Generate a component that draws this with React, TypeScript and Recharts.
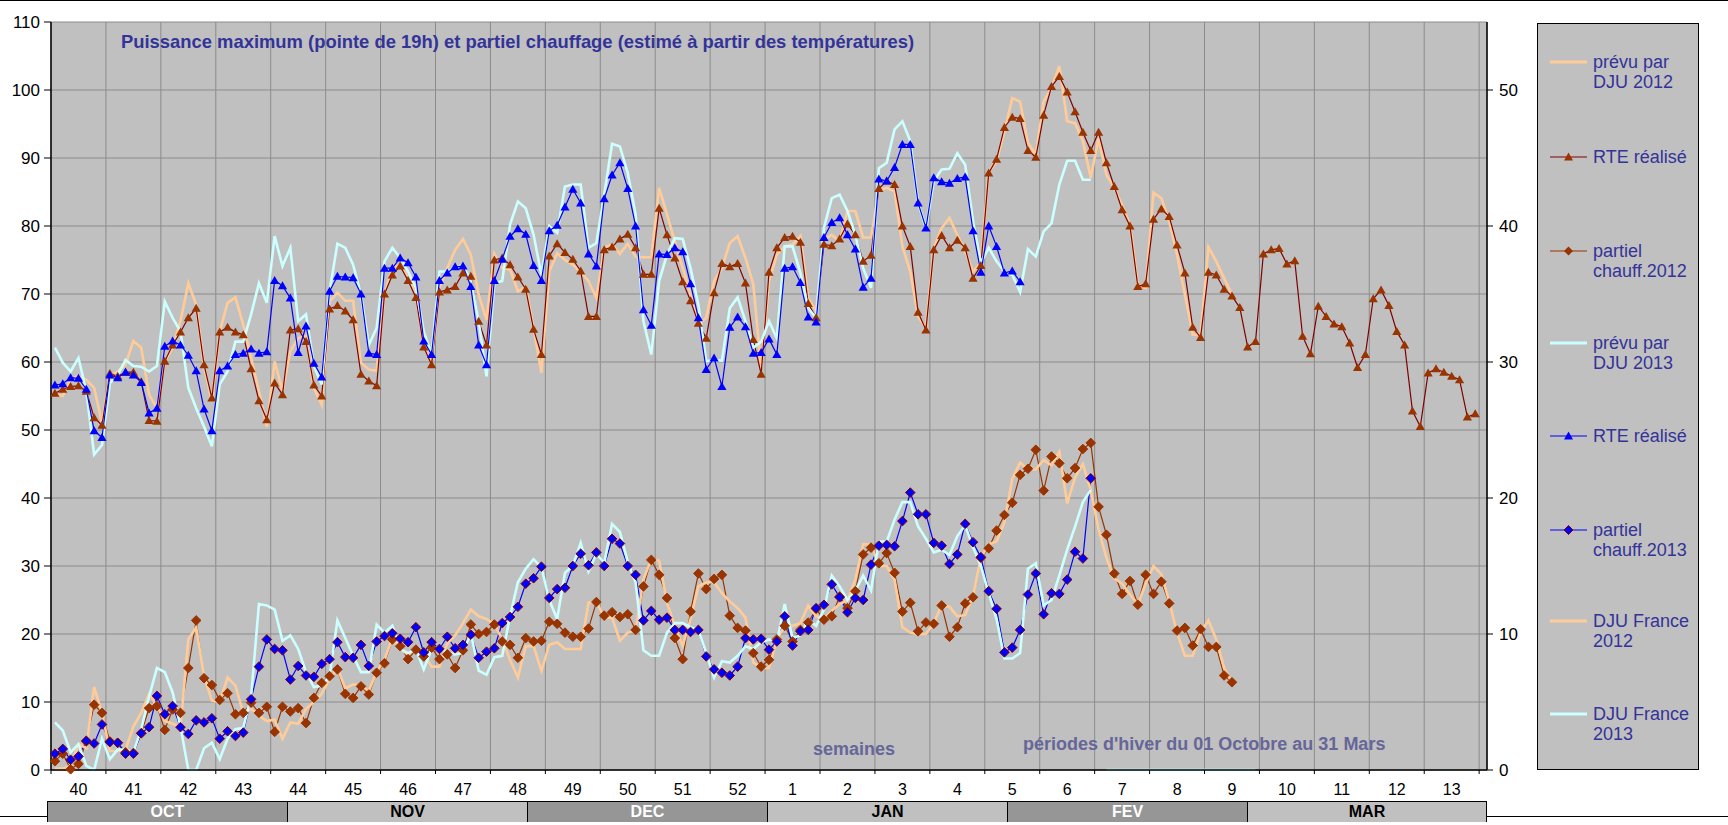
import React from 'react';
import { ComposedChart, Line, XAxis, YAxis, CartesianGrid } from 'recharts';

// 183 daily categories, 1 Oct -> 31 Mar (winter 2011-12, leap year)
const DAY_COUNT = 183;

const weekLabels = ['40', '41', '42', '43', '44', '45', '46', '47', '48', '49', '50', '51', '52',
  '1', '2', '3', '4', '5', '6', '7', '8', '9', '10', '11', '12', '13'];
const weekTicks = [0, 7, 14, 21, 28, 35, 42, 49, 56, 63, 70, 77, 84, 91, 98, 105, 112, 119, 126,
  133, 140, 147, 154, 161, 168, 175, 182];
const monthNames = ['OCT', 'NOV', 'DEC', 'JAN', 'FEV', 'MAR'];
const leftTicks = [0, 10, 20, 30, 40, 50, 60, 70, 80, 90, 100, 110];
const rightTicks = [0, 10, 20, 30, 40, 50];

// GW, left axis
const rte2012 = [
  55.4, 56.0, 56.4, 56.5, 55.7, 51.8, 50.7, 58.3, 57.9, 58.5,
  58.5, 57.1, 51.4, 51.3, 60.1, 62.5, 64.4, 66.5, 67.9, 59.6,
  54.7, 64.4, 65.1, 64.4, 64.0, 59.0, 54.3, 51.5, 56.9, 55.2,
  64.7, 64.9, 63.0, 56.6, 55.0, 67.8, 68.3, 67.5, 66.2, 58.2,
  57.2, 56.5, 70.0, 72.8, 74.1, 72.0, 69.5, 62.2, 59.6, 70.3,
  70.6, 71.1, 73.1, 72.6, 66.0, 62.5, 75.0, 75.3, 74.3, 72.5,
  70.7, 64.8, 61.1, 75.6, 77.4, 76.1, 75.1, 73.4, 66.7, 66.7,
  76.5, 76.9, 78.1, 78.8, 76.8, 72.9, 72.9, 82.6, 78.7, 75.3,
  71.8, 69.0, 65.7, 63.5, 70.2, 74.5, 74.0, 74.5, 71.6, 63.3,
  58.2, 73.2, 76.8, 78.3, 78.5, 77.6, 68.6, 66.5, 77.3, 77.1,
  78.1, 80.3, 78.7, 74.8, 75.7, 85.5, 86.6, 86.1, 80.0, 77.0,
  67.3, 64.7, 76.5, 78.6, 76.8, 77.9, 76.8, 72.3, 74.2, 87.8,
  89.8, 94.5, 96.0, 95.8, 91.1, 90.1, 96.3, 100.5, 102.0, 99.7,
  96.8, 93.8, 91.1, 93.8, 89.3, 85.8, 82.4, 80.0, 71.1, 71.5,
  81.0, 82.5, 81.4, 77.2, 73.1, 65.1, 63.6, 73.2, 72.8, 70.7,
  69.7, 68.0, 62.2, 63.0, 75.9, 76.5, 76.7, 74.4, 74.9, 63.8,
  61.2, 68.2, 66.7, 65.6, 65.2, 62.8, 59.2, 61.1, 69.3, 70.6,
  68.3, 64.5, 62.5, 52.8, 50.5, 58.4, 59.0, 58.5, 57.9, 57.4,
  51.9, 52.4,
];

const prevu2012 = [
  55.3, 55.0, 57.4, 58.0, 57.4, 56.2, 51.0, 57.9, 58.6, 59.6,
  63.1, 62.1, 55.2, 53.2, 60.1, 62.1, 66.0, 71.6, 68.4, 59.4,
  54.2, 64.5, 68.7, 69.5, 65.5, 60.6, 55.7, 50.5, 60.1, 55.7,
  61.6, 63.5, 63.8, 56.2, 53.7, 68.9, 70.2, 69.0, 69.0, 59.9,
  58.9, 58.7, 69.9, 73.8, 74.3, 72.4, 69.9, 62.5, 59.9, 70.9,
  73.8, 76.5, 78.1, 75.8, 69.9, 66.2, 75.9, 73.8, 73.6, 70.4,
  71.1, 65.0, 58.4, 73.3, 76.0, 75.0, 74.3, 73.3, 71.9, 69.4,
  76.8, 77.3, 75.9, 77.4, 75.5, 75.4, 75.4, 85.6, 81.7, 77.7,
  73.8, 69.9, 65.5, 66.5, 71.9, 73.8, 77.5, 78.5, 75.3, 71.4,
  59.1, 71.9, 75.8, 77.0, 77.3, 78.5, 69.4, 67.5, 78.0, 78.7,
  77.7, 82.2, 82.2, 78.3, 78.3, 85.3, 85.6, 85.1, 77.0, 73.3,
  66.7, 65.0, 76.8, 79.7, 81.2, 78.7, 76.3, 73.3, 74.6, 88.0,
  89.5, 93.9, 98.8, 98.3, 92.2, 90.5, 98.3, 100.3, 103.5, 95.4,
  95.1, 92.5, 87.1, 92.9, 87.5, 85.6, 83.1, 80.2, 71.4, 70.9,
  84.9, 84.1, 80.7, 75.8, 69.9, 64.0, 64.0, 76.9, 74.8, 72.3,
  69.9,
];

const partiel2012 = [
  1.3, 2.4, 0.1, 0.9, 4.2, 9.6, 8.4, 4.2, 4.0, 2.6,
  2.5, 5.4, 9.1, 9.4, 5.9, 8.9, 8.4, 15.0, 22.0, 13.5,
  12.5, 10.3, 11.3, 8.2, 8.4, 9.9, 8.4, 9.3, 5.6, 9.3,
  8.6, 9.1, 6.9, 10.6, 12.8, 13.8, 14.8, 11.2, 10.6, 12.3,
  11.1, 14.3, 15.7, 19.2, 18.2, 16.3, 17.7, 16.7, 18.0, 16.3,
  17.0, 15.0, 17.6, 21.4, 20.0, 20.3, 21.4, 18.9, 18.4, 16.5,
  19.4, 18.9, 19.0, 21.8, 21.5, 20.2, 19.6, 19.6, 20.8, 24.7,
  22.7, 23.2, 22.5, 22.9, 20.6, 27.0, 30.9, 28.7, 25.3, 19.4,
  16.3, 23.3, 28.9, 26.6, 28.1, 28.7, 22.7, 20.9, 20.5, 17.2,
  15.2, 16.2, 19.2, 21.2, 18.9, 20.6, 21.7, 23.7, 22.1, 22.6,
  25.5, 23.8, 26.3, 31.7, 32.7, 30.4, 31.9, 29.0, 23.3, 24.6,
  20.4, 21.7, 21.5, 24.2, 19.6, 21.0, 24.5, 25.4, 31.2, 32.6,
  35.2, 37.5, 39.3, 43.4, 44.3, 47.1, 41.1, 46.1, 45.1, 42.9,
  44.4, 47.2, 48.1, 38.7, 34.6, 28.9, 25.9, 27.8, 24.3, 28.7,
  25.9, 27.7, 24.5, 20.5, 20.9, 18.3, 20.7, 18.1, 18.1, 13.9,
  12.9,
];

// degrés-jours, right axis
const dju2012 = [
  0.1, 0.1, 0.3, 1.9, 1.6, 6.1, 4.2, 1.4, 1.4, 1.5,
  3.2, 4.2, 5.6, 4.7, 3.6, 3.4, 3.2, 9.6, 10.5, 6.9,
  5.1, 5.0, 6.8, 6.2, 4.2, 4.5, 4.0, 3.6, 3.7, 2.3,
  3.5, 3.4, 4.5, 5.0, 5.6, 6.7, 7.5, 6.0, 6.3, 6.2,
  5.8, 7.2, 8.1, 9.7, 8.9, 8.5, 8.9, 8.5, 7.6, 7.6,
  9.3, 9.9, 10.8, 11.8, 11.3, 11.1, 10.7, 9.6, 8.1, 6.8,
  9.1, 9.1, 7.3, 9.2, 9.4, 8.9, 8.9, 8.9, 12.3, 12.4,
  11.2, 11.2, 9.5, 10.1, 10.3, 14.0, 15.5, 15.4, 12.3, 10.6,
  9.1, 11.1, 13.5, 13.8, 13.8, 13.0, 12.4, 11.9, 11.2, 7.9,
  7.5, 7.5, 9.6, 10.6, 10.6, 10.8, 12.1, 11.3, 11.1, 11.7,
  12.2, 12.5, 14.0, 16.6, 16.6, 15.0, 15.0, 14.0, 10.5, 10.1,
  10.0, 10.0, 10.8, 12.1, 12.0, 11.3, 11.4, 12.8, 15.6, 16.6,
  16.8, 18.2, 21.4, 22.6, 22.1, 22.1, 22.8, 22.4, 23.4, 19.6,
  21.5, 22.5, 20.6, 17.7, 15.6, 14.1, 13.7, 12.9, 12.2, 13.7,
  15.0, 14.4, 12.4, 10.1, 8.4, 8.4, 10.1, 11.0, 9.6, 7.5,
  6.4,
];

const rte2013 = [
  56.6, 56.8, 57.7, 57.6, 56.0, 49.9, 48.9, 58.1, 57.7, 58.5,
  58.1, 57.0, 52.5, 53.2, 62.3, 63.1, 62.5, 61.0, 58.7, 53.1,
  49.9, 58.7, 59.4, 61.1, 61.3, 61.9, 61.3, 61.5, 72.0, 71.2,
  69.4, 61.4, 65.3, 59.8, 57.8, 70.4, 72.6, 72.5, 72.4, 70.0,
  61.3, 61.1, 73.8, 73.8, 75.3, 74.6, 72.5, 63.1, 61.1, 72.0,
  73.1, 74.0, 74.1, 71.1, 62.5, 59.6, 72.0, 75.1, 78.5, 79.6,
  78.8, 74.2, 72.0, 79.3, 80.1, 82.8, 85.4, 83.4, 75.9, 74.1,
  84.0, 87.5, 89.3, 85.5, 80.0, 67.7, 65.4, 75.9, 75.8, 76.8,
  76.2, 71.5, 66.5, 58.9, 60.6, 56.4, 65.1, 66.6, 65.2, 61.3,
  61.4, 63.4, 61.1, 73.8, 74.0, 71.7, 66.6, 65.9, 78.3, 80.5,
  81.2, 78.7, 76.6, 71.0, 72.3, 86.9, 86.6, 88.6, 92.0, 92.0,
  83.4, 79.7, 87.1, 86.5, 86.3, 87.0, 87.2, 79.3, 73.2, 80.0,
  77.0, 73.1, 73.4, 71.8,
];

const prevu2013 = [
  62.1, 59.9, 58.6, 60.6, 55.7, 46.4, 47.8, 56.9, 58.1, 60.3,
  59.4, 59.3, 58.6, 59.4, 68.9, 66.5, 64.5, 56.2, 53.2, 50.5,
  47.6, 56.7, 58.6, 63.0, 63.0, 67.0, 71.6, 68.7, 78.5, 74.1,
  76.8, 66.0, 67.0, 59.4, 56.7, 70.4, 77.4, 76.8, 74.3, 69.9,
  62.5, 65.0, 74.8, 76.8, 75.3, 73.3, 70.9, 64.5, 61.1, 73.3,
  73.3, 73.8, 74.3, 71.9, 66.0, 57.9, 71.6, 71.9, 80.2, 83.6,
  82.6, 78.7, 72.8, 80.0, 79.0, 85.8, 86.1, 86.1, 76.8, 77.5,
  84.6, 92.1, 91.7, 87.8, 81.7, 66.0, 61.1, 71.9, 75.8, 78.2,
  78.1, 73.8, 68.4, 60.1, 60.3, 60.2, 67.9, 69.5, 66.0, 62.1,
  63.0, 66.0, 63.5, 77.0, 77.0, 73.1, 67.9, 66.5, 79.7, 84.1,
  84.6, 82.2, 78.7, 73.8, 70.9, 88.5, 89.3, 94.2, 95.4, 92.5,
  83.4, 79.7, 86.6, 88.3, 88.4, 90.7, 89.0, 80.7, 74.6, 76.8,
  74.8, 73.3, 72.8, 70.3, 76.6, 75.5, 79.2, 80.4, 86.1, 89.6,
  89.6, 86.8, 86.8,
];

const partiel2013 = [
  2.4, 3.1, 1.5, 2.0, 4.3, 3.9, 6.7, 4.1, 4.0, 2.4,
  2.4, 5.4, 6.3, 10.9, 8.2, 9.4, 6.3, 5.3, 7.3, 7.0,
  7.6, 4.6, 5.7, 5.0, 5.5, 10.4, 15.2, 19.2, 17.8, 17.6,
  13.3, 15.3, 13.9, 13.7, 15.6, 16.3, 18.8, 16.6, 16.5, 18.4,
  15.3, 18.9, 19.7, 20.1, 19.3, 18.8, 21.0, 17.3, 18.8, 17.8,
  19.6, 17.9, 18.4, 19.9, 16.5, 17.4, 17.9, 21.6, 22.5, 24.0,
  27.4, 28.2, 29.9, 25.3, 26.6, 26.8, 30.0, 31.8, 30.1, 32.0,
  30.0, 34.0, 33.3, 30.0, 28.7, 22.0, 23.4, 22.1, 22.4, 20.6,
  20.6, 20.3, 20.6, 16.7, 14.8, 14.3, 13.9, 15.2, 19.4, 19.2,
  19.3, 17.7, 18.9, 22.6, 18.3, 20.4, 20.6, 23.8, 24.3, 27.3,
  25.4, 23.2, 25.3, 25.0, 30.2, 33.0, 33.1, 32.9, 36.6, 40.8,
  37.6, 37.6, 33.4, 33.0, 30.3, 31.7, 36.2, 33.5, 31.3, 26.3,
  23.7, 17.3, 18.0, 20.6, 25.8, 28.9, 22.9, 26.0, 25.9, 28.0,
  32.1, 31.1, 42.9,
];

const dju2013 = [
  3.5, 2.9, 1.3, 1.9, 0.3, 0, 2.3, 0.8, 1.5, 1.5,
  1.3, 3.0, 5.4, 7.5, 7.2, 5.7, 3.2, 0, 0, 1.6,
  2.0, 0.8, 2.3, 3.0, 3.1, 5.4, 12.2, 12.1, 11.8, 9.5,
  9.9, 8.9, 7.2, 6.1, 6.2, 6.9, 11.0, 9.7, 8.4, 7.2,
  7.2, 10.7, 10.1, 10.6, 8.9, 8.6, 8.9, 7.4, 8.9, 9.1,
  8.6, 8.5, 8.6, 10.1, 7.3, 7.0, 8.3, 8.4, 11.3, 13.8,
  14.8, 15.5, 14.9, 12.5, 11.1, 14.5, 15.0, 16.7, 14.6, 15.9,
  15.2, 18.1, 17.5, 15.3, 13.8, 8.8, 8.4, 8.4, 10.1, 10.8,
  10.8, 10.5, 10.3, 8.6, 6.8, 8.0, 7.9, 8.4, 9.1, 8.9,
  9.4, 9.6, 9.4, 12.2, 9.7, 9.9, 11.1, 10.6, 11.8, 14.3,
  13.5, 12.5, 13.2, 14.3, 13.2, 16.8, 16.8, 18.4, 19.7, 19.7,
  17.9, 17.0, 16.0, 16.2, 15.8, 17.2, 18.0, 16.4, 15.0, 13.0,
  11.1, 8.2, 8.2, 8.6, 14.8, 15.2, 12.1, 12.5, 14.3, 16.2,
  17.9, 19.7, 20.6, null, 0, 0, 0, 0, 0, 0,
  0, 0, 0, 0, 0, 0, 0, 0, 0, 0,
  0, 0, 0, 0,
];

const pick = (arr: (number | null)[], i: number) => (i < arr.length ? arr[i] : null);

const data = Array.from({ length: DAY_COUNT }, (_, i) => ({
  day: i + 0.5,
  prevu2012: pick(prevu2012, i),
  rte2012: pick(rte2012, i),
  partiel2012: pick(partiel2012, i),
  prevu2013: pick(prevu2013, i),
  rte2013: pick(rte2013, i),
  partiel2013: pick(partiel2013, i),
  dju2012: pick(dju2012, i),
  dju2013: pick(dju2013, i),
}));

const FONT = '"Liberation Sans", Arial, sans-serif';
const PEACH = '#FFCC99';
const ICE = '#CCFFFF';
const BROWN = '#993300';
const MAROON = '#800000';
const BLUE = '#0000FF';

const triangleDot = (fill: string) => (p: any) => {
  const { cx, cy, index, value } = p;
  if (cx == null || cy == null || value == null) return <g key={`t${index}`} />;
  return (
    <path
      key={`t${index}`}
      d={`M${cx},${cy - 4.5}L${cx + 4.6},${cy + 3.5}L${cx - 4.6},${cy + 3.5}Z`}
      fill={fill}
    />
  );
};

const diamondDot = (fill: string, stroke: string) => (p: any) => {
  const { cx, cy, index, value } = p;
  if (cx == null || cy == null || value == null) return <g key={`d${index}`} />;
  return (
    <path
      key={`d${index}`}
      d={`M${cx},${cy - 4.8}L${cx + 4.8},${cy}L${cx},${cy + 4.8}L${cx - 4.8},${cy}Z`}
      fill={fill}
      stroke={stroke}
      strokeWidth={1}
    />
  );
};

const WeekTick = (p: any) => {
  const { x, y, index } = p;
  const label = weekLabels[index];
  if (!label) return <g />;
  return (
    <text x={x + 27.5} y={y + 19} textAnchor="middle" fontSize={16} fontFamily={FONT} fill="#000">
      {label}
    </text>
  );
};

const legendItems = [
  { label: ['prévu par', 'DJU 2012'], color: PEACH, width: 3, marker: null },
  { label: ['RTE réalisé'], color: MAROON, width: 1, marker: 'tri-brown' },
  { label: ['partiel', 'chauff.2012'], color: BROWN, width: 1, marker: 'dia-brown' },
  { label: ['prévu par', 'DJU 2013'], color: ICE, width: 3, marker: null },
  { label: ['RTE réalisé'], color: BLUE, width: 1, marker: 'tri-blue' },
  { label: ['partiel', 'chauff.2013'], color: BLUE, width: 1, marker: 'dia-blue' },
  { label: ['DJU France', '2012'], color: PEACH, width: 3, marker: null },
  { label: ['DJU France', '2013'], color: ICE, width: 3, marker: null },
];
const legendRows = [38, 133, 227, 319, 412, 506, 597, 690];

function LegendIcon({ color, width, marker }: { color: string; width: number; marker: string | null }) {
  return (
    <svg width={38} height={14} style={{ position: 'absolute', left: 12, top: -7 }}>
      <line x1={0} y1={7} x2={37} y2={7} stroke={color} strokeWidth={width} />
      {marker === 'tri-brown' && <path d="M18.5,2.5L23,10.5L14,10.5Z" fill={BROWN} />}
      {marker === 'tri-blue' && <path d="M18.5,2.5L23,10.5L14,10.5Z" fill={BLUE} />}
      {marker === 'dia-brown' && <path d="M18.5,2.5L23,7L18.5,11.5L14,7Z" fill={BROWN} />}
      {marker === 'dia-blue' && <path d="M18.5,2.5L23,7L18.5,11.5L14,7Z" fill={BLUE} stroke={MAROON} />}
    </svg>
  );
}

export default function App() {
  return (
    <div style={{ position: 'absolute', left: 0, top: 0, width: 1728, height: 825, background: '#fff', fontFamily: FONT, overflow: 'hidden' }}>
      <div style={{ position: 'absolute', left: 0, top: 0, width: 1728, height: 1, background: '#000' }} />
      <div style={{ position: 'absolute', left: 0, top: 816, width: 1728, height: 1, background: '#000' }} />

      <div style={{ position: 'absolute', left: 0, top: 0 }}>
        <ComposedChart width={1728} height={825} data={data} margin={{ top: 22, right: 201, bottom: 25, left: 1 }}>
          <CartesianGrid yAxisId="left" stroke="#8c8c8c" strokeWidth={1} fill="#C0C0C0" fillOpacity={1} />
          <XAxis
            type="number"
            dataKey="day"
            domain={[0, DAY_COUNT]}
            ticks={weekTicks}
            interval={0}
            height={30}
            tickSize={4}
            tickMargin={2}
            axisLine={{ stroke: '#000', strokeWidth: 1.5 }}
            tickLine={{ stroke: '#000' }}
            tick={<WeekTick />}
          />
          <YAxis
            yAxisId="left"
            domain={[0, 110]}
            ticks={leftTicks}
            interval={0}
            width={50}
            tickSize={7}
            tickMargin={4}
            axisLine={{ stroke: '#000', strokeWidth: 1.5 }}
            tickLine={{ stroke: '#000' }}
            tick={{ fontSize: 17, fill: '#000', fontFamily: FONT }}
          />
          <YAxis
            yAxisId="right"
            orientation="right"
            domain={[0, 55]}
            ticks={rightTicks}
            interval={0}
            width={40}
            tickSize={6}
            tickMargin={6}
            axisLine={{ stroke: '#000', strokeWidth: 1.5 }}
            tickLine={{ stroke: '#000' }}
            tick={{ fontSize: 17, fill: '#000', fontFamily: FONT, textAnchor: 'start' }}
          />

          <Line yAxisId="left" type="linear" dataKey="prevu2012" stroke={PEACH} strokeWidth={2.6} dot={false} activeDot={false} isAnimationActive={false} />
          <Line yAxisId="left" type="linear" dataKey="rte2012" stroke={MAROON} strokeWidth={1.2} dot={triangleDot(BROWN)} activeDot={false} isAnimationActive={false} />
          <Line yAxisId="left" type="linear" dataKey="partiel2012" stroke={BROWN} strokeWidth={1.2} dot={diamondDot(BROWN, BROWN)} activeDot={false} isAnimationActive={false} />
          <Line yAxisId="left" type="linear" dataKey="prevu2013" stroke={ICE} strokeWidth={2.6} dot={false} activeDot={false} isAnimationActive={false} />
          <Line yAxisId="left" type="linear" dataKey="rte2013" stroke={BLUE} strokeWidth={1.2} dot={triangleDot(BLUE)} activeDot={false} isAnimationActive={false} />
          <Line yAxisId="left" type="linear" dataKey="partiel2013" stroke={BLUE} strokeWidth={1.2} dot={diamondDot(BLUE, MAROON)} activeDot={false} isAnimationActive={false} />
          <Line yAxisId="right" type="linear" dataKey="dju2012" stroke={PEACH} strokeWidth={2.6} dot={false} activeDot={false} isAnimationActive={false} />
          <Line yAxisId="right" type="linear" dataKey="dju2013" stroke={ICE} strokeWidth={2.6} dot={false} activeDot={false} isAnimationActive={false} />
        </ComposedChart>
      </div>

      <div style={{ position: 'absolute', left: 121, top: 31, fontSize: 18.4, fontWeight: 'bold', color: '#333399', whiteSpace: 'nowrap' }}>
        Puissance maximum (pointe de 19h) et partiel chauffage (estimé à partir des températures)
      </div>
      <div style={{ position: 'absolute', left: 813, top: 739, fontSize: 18, fontWeight: 'bold', color: '#666699', whiteSpace: 'nowrap' }}>
        semaines
      </div>
      <div style={{ position: 'absolute', left: 1023, top: 734, fontSize: 18, fontWeight: 'bold', color: '#666699', whiteSpace: 'nowrap' }}>
        périodes d'hiver du 01 Octobre au 31 Mars
      </div>

      <div style={{ position: 'absolute', left: 1537, top: 23, width: 160, height: 745, background: '#C0C0C0', border: '1px solid #000' }}>
        {legendItems.map((it, k) => (
          <div key={k} style={{ position: 'absolute', left: 0, top: legendRows[k] }}>
            <LegendIcon color={it.color} width={it.width} marker={it.marker} />
            <div style={{ position: 'absolute', left: 55, top: -10, fontSize: 18, lineHeight: '20px', color: '#333399', whiteSpace: 'nowrap' }}>
              {it.label.map((l, j) => <div key={j}>{l}</div>)}
            </div>
          </div>
        ))}
      </div>

      <div style={{ position: 'absolute', left: 47, top: 801, width: 1440, height: 20, display: 'flex', borderTop: '1px solid #000' }}>
        {monthNames.map((m, k) => (
          <div
            key={m}
            style={{
              width: 240,
              height: 20,
              boxSizing: 'border-box',
              borderLeft: '1px solid #000',
              borderRight: k === monthNames.length - 1 ? '1px solid #000' : 'none',
              background: k % 2 === 0 ? '#969696' : '#C0C0C0',
              color: k % 2 === 0 ? '#fff' : '#000',
              fontWeight: 'bold',
              fontSize: 16,
              lineHeight: '20px',
              textAlign: 'center',
            }}
          >
            {m}
          </div>
        ))}
      </div>
    </div>
  );
}
